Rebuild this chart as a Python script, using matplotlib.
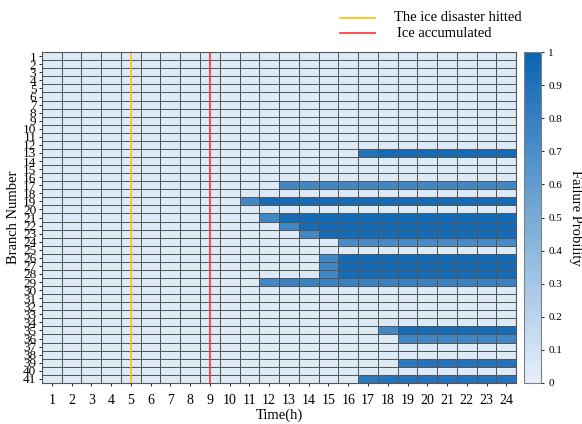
import numpy as np
import matplotlib
matplotlib.use("Agg")
from matplotlib import pyplot as plt
from matplotlib.colors import LinearSegmentedColormap
from matplotlib.lines import Line2D

plt.rcParams["font.family"] = ["Liberation Serif", "DejaVu Serif"]

hours = list(range(1, 25))
branches = list(range(1, 42))
base_prob = 0.05

# branches that fail: onset hour, probability in the onset hour, probability afterwards
fail_branch = [13, 17, 19, 21, 22, 23, 24, 26, 27, 28, 29, 35, 36, 39, 41]
fail_start = [17, 13, 11, 12, 13, 14, 16, 15, 15, 15, 12, 18, 19, 19, 17]
first_prob = [0.90, 0.75, 0.75, 0.75, 0.75, 0.75, 0.72, 0.75, 0.75, 0.75, 0.75, 0.75, 0.75, 0.85, 0.85]
later_prob = [0.95, 0.75, 0.95, 0.95, 0.95, 0.95, 0.72, 0.95, 0.95, 0.95, 0.78, 0.95, 0.75, 0.88, 0.88]

hit_hour = 5
accum_hour = 9

prob = np.full((len(branches), len(hours)), base_prob)
for b, s, p0, p1 in zip(fail_branch, fail_start, first_prob, later_prob):
    prob[b - 1, s - 1] = p0
    prob[b - 1, s:] = p1

cmap = LinearSegmentedColormap.from_list("blues", ["#e6f0fa", "#0a64b4"])

fig = plt.figure(figsize=(5.82, 4.24), dpi=100)
ax = fig.add_axes([0.072, 0.097, 0.815, 0.780])
cax = fig.add_axes([0.900, 0.097, 0.029, 0.780])

mesh = ax.pcolormesh(np.arange(0.5, 25.5), np.arange(0.5, 42.5), prob,
                     cmap=cmap, vmin=0, vmax=1,
                     edgecolor="#555555", linewidth=0.45)
ax.set_xlim(0.5, 24.5)
ax.set_ylim(41.5, 0.5)

ax.axvline(hit_hour, color="#ffc000", linewidth=1.2)
ax.axvline(accum_hour, color="#ff3030", linewidth=1.2)

ax.set_xticks(hours)
ax.set_xticklabels([str(h) for h in hours], fontsize=10)
ax.set_yticks(branches)
ax.set_yticklabels([str(b) for b in branches], fontsize=9.5)
ax.tick_params(axis="both", length=2, width=0.6, pad=2)
ax.tick_params(axis="x", pad=6)
ax.set_xlabel("Time(h)", fontsize=10.5, labelpad=1)
ax.set_ylabel("Branch Number", fontsize=10.5, labelpad=2)
for s in ax.spines.values():
    s.set_color("#555555")
    s.set_linewidth(0.8)

cb = fig.colorbar(mesh, cax=cax)
cb.set_ticks(np.arange(0, 1.01, 0.1))
cb.set_ticklabels(["0", "0.1", "0.2", "0.3", "0.4", "0.5", "0.6", "0.7", "0.8", "0.9", "1"])
cb.ax.tick_params(labelsize=8, length=2, width=0.6)
cb.outline.set_edgecolor("#808080")
cb.outline.set_linewidth(0.8)
cb.set_label("Failure Probility", rotation=270, fontsize=10.5, labelpad=14)

# legend drawn above the heatmap
fig.add_artist(Line2D([0.585, 0.645], [0.958, 0.958], color="#ffc000", linewidth=1.2))
fig.add_artist(Line2D([0.585, 0.645], [0.921, 0.921], color="#ff3030", linewidth=1.2))
fig.text(0.677, 0.958, "The ice disaster hitted", fontsize=10.5, va="center")
fig.text(0.682, 0.921, "Ice accumulated", fontsize=10.5, va="center")

fig.savefig("out.png", dpi=100)
